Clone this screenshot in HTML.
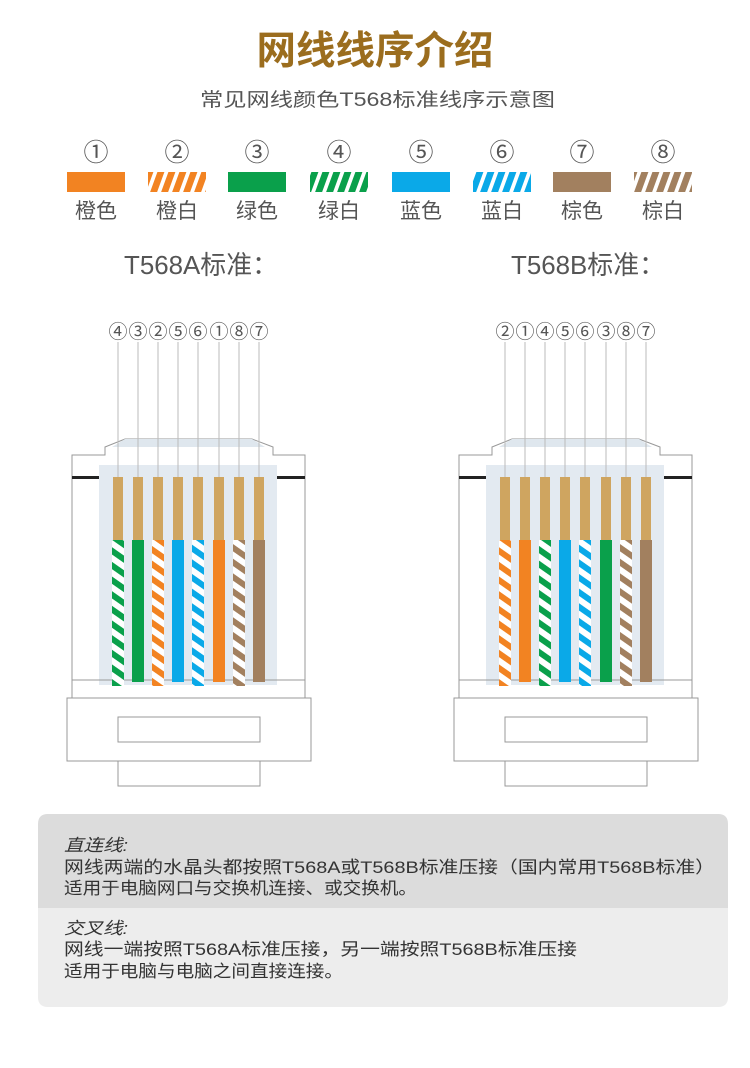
<!DOCTYPE html>
<html><head><meta charset="utf-8"><style>
body{margin:0;background:#fff;}
svg{display:block;font-family:"Liberation Sans","Noto Sans CJK SC",sans-serif;}
</style></head><body>
<svg width="750" height="1068" viewBox="0 0 750 1068" xmlns="http://www.w3.org/2000/svg">
<defs>
<pattern id="so" width="12" height="12" patternUnits="userSpaceOnUse" patternTransform="rotate(35)"><rect width="12" height="12" fill="#fff"/><rect width="12" height="6" fill="#f28322"/></pattern>
<pattern id="sg" width="12" height="12" patternUnits="userSpaceOnUse" patternTransform="rotate(35)"><rect width="12" height="12" fill="#fff"/><rect width="12" height="6" fill="#0aa04b"/></pattern>
<pattern id="sb" width="12" height="12" patternUnits="userSpaceOnUse" patternTransform="rotate(35)"><rect width="12" height="12" fill="#fff"/><rect width="12" height="6" fill="#0aa9e8"/></pattern>
<pattern id="sn" width="12" height="12" patternUnits="userSpaceOnUse" patternTransform="rotate(35)"><rect width="12" height="12" fill="#fff"/><rect width="12" height="6" fill="#a2805f"/></pattern>
<pattern id="lo" width="11" height="20" patternUnits="userSpaceOnUse" patternTransform="skewX(-20)"><rect width="11" height="20" fill="#fff"/><rect width="7" height="20" fill="#f28322"/></pattern>
<pattern id="lg" width="11" height="20" patternUnits="userSpaceOnUse" patternTransform="skewX(-20)"><rect width="11" height="20" fill="#fff"/><rect width="7" height="20" fill="#0aa04b"/></pattern>
<pattern id="lb" width="11" height="20" patternUnits="userSpaceOnUse" patternTransform="skewX(-20)"><rect width="11" height="20" fill="#fff"/><rect width="7" height="20" fill="#0aa9e8"/></pattern>
<pattern id="ln" width="11" height="20" patternUnits="userSpaceOnUse" patternTransform="skewX(-20)"><rect width="11" height="20" fill="#fff"/><rect width="7" height="20" fill="#a2805f"/></pattern>
<g id="conn">
  <path d="M72,455 H105 V447 L125,439 H252 L273,447 V455 H305 V698 H72 Z" fill="#fff" stroke="#999" stroke-width="1"/>
  <path d="M125,439 H252 L265,447 H112 Z" fill="#dfe7ee"/>
  <rect x="99" y="465" width="178" height="220" fill="#e3eaf1"/>
  <rect x="72" y="476" width="27" height="3" fill="#222"/>
  <rect x="277" y="476" width="28" height="3" fill="#222"/>
  <line x1="72" y1="680" x2="305" y2="680" stroke="#999"/>
  <rect x="67" y="698" width="244" height="63" fill="#fff" stroke="#999"/>
  <rect x="118" y="717" width="142" height="25" fill="#fff" stroke="#999"/>
  <rect x="118" y="761" width="142" height="25" fill="#fff" stroke="#999"/>
</g>
<g id="nums" stroke="#bbb" stroke-width="1">
<line x1="118" y1="342" x2="118" y2="477"/><line x1="138" y1="342" x2="138" y2="477"/><line x1="158" y1="342" x2="158" y2="477"/><line x1="178" y1="342" x2="178" y2="477"/><line x1="198" y1="342" x2="198" y2="477"/><line x1="219" y1="342" x2="219" y2="477"/><line x1="239" y1="342" x2="239" y2="477"/><line x1="259" y1="342" x2="259" y2="477"/>
</g>
<g id="pins" fill="#cfa560">
<rect x="113" y="477" width="10" height="63"/><rect x="133" y="477" width="10" height="63"/><rect x="153" y="477" width="10" height="63"/><rect x="173" y="477" width="10" height="63"/><rect x="193" y="477" width="10" height="63"/><rect x="214" y="477" width="10" height="63"/><rect x="234" y="477" width="10" height="63"/><rect x="254" y="477" width="10" height="63"/>
</g>
</defs>

<text x="375" y="64" text-anchor="middle" font-size="39" font-weight="bold" fill="#9b6d1e" textLength="237" lengthAdjust="spacingAndGlyphs">网线线序介绍</text>
<text x="200" y="106" font-size="19" fill="#555" textLength="355" lengthAdjust="spacingAndGlyphs">常见网线颜色T568标准线序示意图</text>

<g font-size="25" fill="#555" text-anchor="middle">
<text x="96" y="161">①</text><text x="177" y="161">②</text><text x="257" y="161">③</text><text x="339" y="161">④</text><text x="421" y="161">⑤</text><text x="502" y="161">⑥</text><text x="582" y="161">⑦</text><text x="663" y="161">⑧</text>
</g>
<rect x="67" y="172" width="58" height="20" fill="#f28322"/>
<rect x="148" y="172" width="58" height="20" fill="url(#lo)"/>
<rect x="228" y="172" width="58" height="20" fill="#0aa04b"/>
<rect x="310" y="172" width="58" height="20" fill="url(#lg)"/>
<rect x="392" y="172" width="58" height="20" fill="#0aa9e8"/>
<rect x="473" y="172" width="58" height="20" fill="url(#lb)"/>
<rect x="553" y="172" width="58" height="20" fill="#a2805f"/>
<rect x="634" y="172" width="58" height="20" fill="url(#ln)"/>
<g font-size="21" fill="#555" text-anchor="middle">
<text x="96" y="218">橙色</text><text x="177" y="218">橙白</text><text x="257" y="218">绿色</text><text x="339" y="218">绿白</text><text x="421" y="218">蓝色</text><text x="502" y="218">蓝白</text><text x="582" y="218">棕色</text><text x="663" y="218">棕白</text>
</g>

<text x="124" y="274" font-size="26" fill="#555" textLength="154" lengthAdjust="spacingAndGlyphs">T568A标准：</text>
<text x="511" y="274" font-size="26" fill="#555" textLength="154" lengthAdjust="spacingAndGlyphs">T568B标准：</text>

<!-- A -->
<use href="#conn"/>
<g font-size="19" fill="#555" text-anchor="middle">
<text x="118" y="338">④</text><text x="138" y="338">③</text><text x="158" y="338">②</text><text x="178" y="338">⑤</text><text x="198" y="338">⑥</text><text x="219" y="338">①</text><text x="239" y="338">⑧</text><text x="259" y="338">⑦</text>
</g>
<use href="#nums"/><use href="#pins"/>
<rect x="112" y="540" width="12" height="146" fill="url(#sg)"/>
<rect x="132" y="540" width="12" height="142" fill="#0aa04b"/>
<rect x="152" y="540" width="12" height="146" fill="url(#so)"/>
<rect x="172" y="540" width="12" height="142" fill="#0aa9e8"/>
<rect x="192" y="540" width="12" height="146" fill="url(#sb)"/>
<rect x="213" y="540" width="12" height="142" fill="#f28322"/>
<rect x="233" y="540" width="12" height="146" fill="url(#sn)"/>
<rect x="253" y="540" width="12" height="142" fill="#a2805f"/>

<!-- B -->
<g transform="translate(387,0)">
<use href="#conn"/>
<g font-size="19" fill="#555" text-anchor="middle">
<text x="118" y="338">②</text><text x="138" y="338">①</text><text x="158" y="338">④</text><text x="178" y="338">⑤</text><text x="198" y="338">⑥</text><text x="219" y="338">③</text><text x="239" y="338">⑧</text><text x="259" y="338">⑦</text>
</g>
<use href="#nums"/><use href="#pins"/>
<rect x="112" y="540" width="12" height="146" fill="url(#so)"/>
<rect x="132" y="540" width="12" height="142" fill="#f28322"/>
<rect x="152" y="540" width="12" height="146" fill="url(#sg)"/>
<rect x="172" y="540" width="12" height="142" fill="#0aa9e8"/>
<rect x="192" y="540" width="12" height="146" fill="url(#sb)"/>
<rect x="213" y="540" width="12" height="142" fill="#0aa04b"/>
<rect x="233" y="540" width="12" height="146" fill="url(#sn)"/>
<rect x="253" y="540" width="12" height="142" fill="#a2805f"/>
</g>

<!-- info box -->
<path d="M48,814 H718 Q728,814 728,824 V908 H38 V824 Q38,814 48,814 Z" fill="#dcdcdc"/>
<path d="M38,908 H728 V997 Q728,1007 718,1007 H48 Q38,1007 38,997 Z" fill="#ededed"/>
<g font-size="17" fill="#333" lengthAdjust="spacingAndGlyphs">
<text x="64" y="851" font-style="italic" textLength="64" lengthAdjust="spacingAndGlyphs">直连线:</text>
<text x="64" y="873" textLength="651" lengthAdjust="spacingAndGlyphs">网线两端的水晶头都按照T568A或T568B标准压接（国内常用T568B标准）</text>
<text x="64" y="894" textLength="353" lengthAdjust="spacingAndGlyphs">适用于电脑网口与交换机连接、或交换机。</text>
<text x="64" y="934" font-style="italic" textLength="64" lengthAdjust="spacingAndGlyphs">交叉线:</text>
<text x="64" y="955" textLength="513" lengthAdjust="spacingAndGlyphs">网线一端按照T568A标准压接，另一端按照T568B标准压接</text>
<text x="64" y="977" textLength="279" lengthAdjust="spacingAndGlyphs">适用于电脑与电脑之间直接连接。</text>
</g>
</svg>
</body></html>
